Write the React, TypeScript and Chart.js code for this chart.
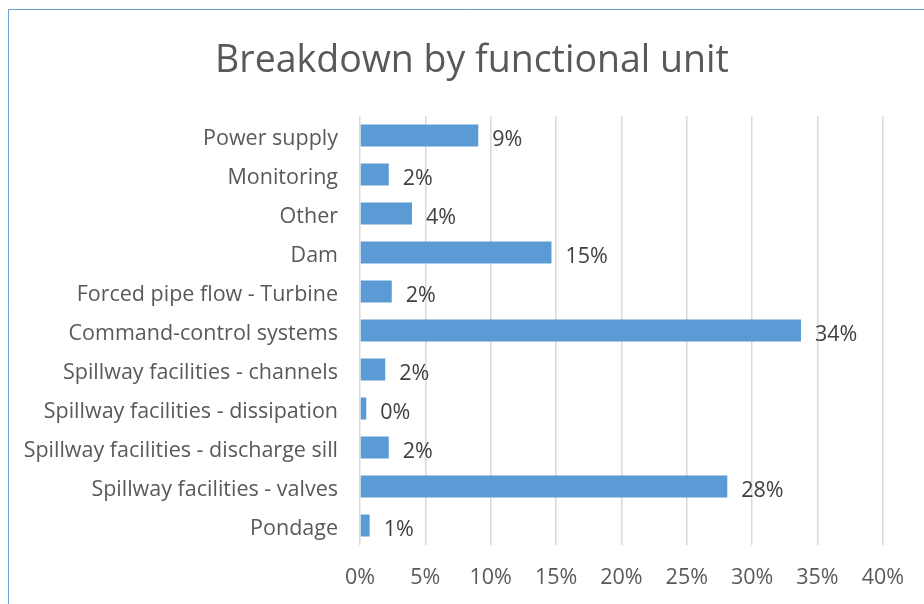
import React, { useEffect, useRef } from "react";
import { Chart, registerables } from "chart.js";

Chart.register(...registerables);

const titleText = "Breakdown by functional unit";

const categories = [
  "Power supply",
  "Monitoring",
  "Other",
  "Dam",
  "Forced pipe flow - Turbine",
  "Command-control systems",
  "Spillway facilities - channels",
  "Spillway facilities - dissipation",
  "Spillway facilities - discharge sill",
  "Spillway facilities - valves",
  "Pondage",
];

const shares = [9.05, 2.2, 3.98, 14.65, 2.43, 33.74, 1.93, 0.48, 2.2, 28.1, 0.74];

const xTickMin = 0;
const xTickMax = 40;
const xTickStep = 5;

const FONT = "'Open Sans', sans-serif";

const frame = {
  id: "frame",
  beforeDraw(chart: any) {
    const ctx = chart.ctx;
    ctx.save();
    ctx.fillStyle = "#ffffff";
    ctx.fillRect(0, 0, chart.width, chart.height);
    ctx.strokeStyle = "#6a9fd6";
    ctx.lineWidth = 1;
    ctx.beginPath();
    ctx.moveTo(8.5, chart.height);
    ctx.lineTo(8.5, 9.5);
    ctx.lineTo(chart.width, 9.5);
    ctx.stroke();
    ctx.font = `37.5px ${FONT}`;
    ctx.fillStyle = "#595959";
    ctx.textAlign = "center";
    ctx.textBaseline = "alphabetic";
    ctx.fillText(titleText, 472, 72);
    ctx.restore();
  },
};

const valueLabels = {
  id: "valueLabels",
  afterDatasetsDraw(chart: any) {
    const ctx = chart.ctx;
    const meta = chart.getDatasetMeta(0);
    const data = chart.data.datasets[0].data as number[];
    ctx.save();
    ctx.font = `21.5px ${FONT}`;
    ctx.fillStyle = "#404040";
    ctx.textAlign = "left";
    ctx.textBaseline = "middle";
    meta.data.forEach((el: any, i: number) => {
      ctx.fillText(Math.round(data[i]) + "%", el.x + 14, el.y + 4);
    });
    ctx.restore();
  },
};

export default function App() {
  const ref = useRef<HTMLCanvasElement | null>(null);
  useEffect(() => {
    document.body.style.margin = "0";
    const chart = new Chart(ref.current!, {
      type: "bar",
      data: {
        labels: categories,
        datasets: [
          {
            data: shares,
            backgroundColor: "#5b9bd5",
            borderWidth: 0,
            categoryPercentage: 1,
            barPercentage: 0.56,
          },
        ],
      },
      options: {
        indexAxis: "y",
        animation: false,
        responsive: false,
        maintainAspectRatio: false,
        layout: { padding: { left: 0, right: 38, top: 116, bottom: 0 } },
        plugins: {
          legend: { display: false },
          tooltip: { enabled: false },
          title: { display: false },
        },
        scales: {
          x: {
            min: xTickMin,
            max: xTickMax,
            ticks: {
              stepSize: xTickStep,
              color: "#595959",
              font: { family: FONT, size: 21.5 },
              padding: 20,
              callback: (v: any) => v + "%",
            },
            grid: { color: "#d9d9d9", lineWidth: 1.5, drawTicks: false },
            border: { display: false },
            afterFit: (s: any) => {
              s.height = 59;
            },
          },
          y: {
            ticks: {
              color: "#595959",
              font: { family: FONT, size: 21.5 },
              padding: 22,
              labelOffset: 3,
            },
            grid: { display: false, drawTicks: false },
            border: { display: false },
            afterFit: (s: any) => {
              s.width = 360;
            },
          },
        },
      },
      plugins: [frame, valueLabels],
    });
    return () => chart.destroy();
  }, []);
  return (
    <div style={{ width: 924, height: 604 }}>
      <canvas ref={ref} width={924} height={604} style={{ display: "block" }} />
    </div>
  );
}
